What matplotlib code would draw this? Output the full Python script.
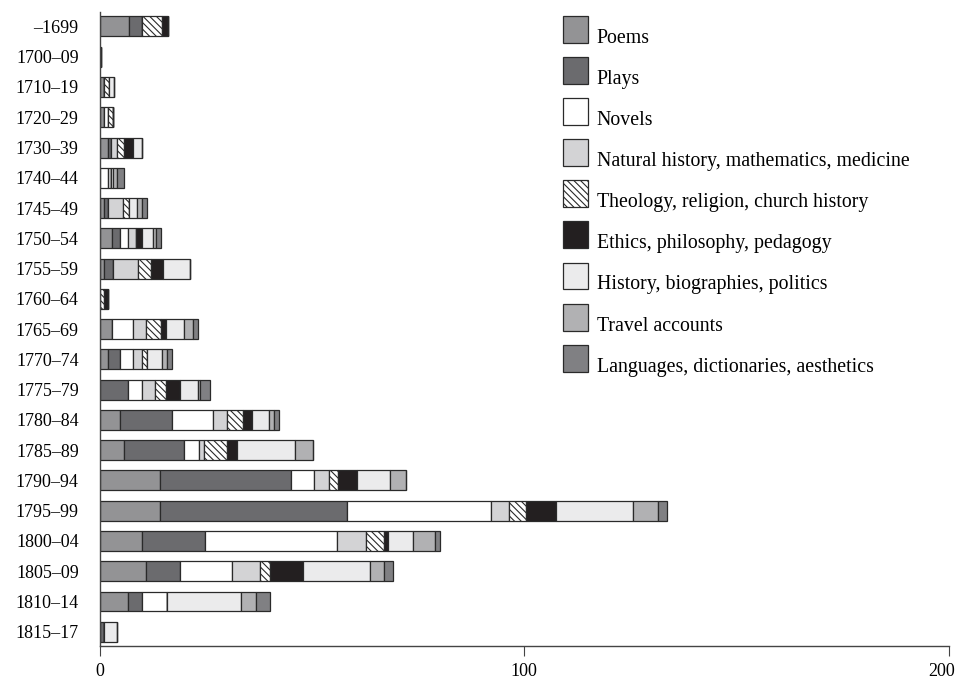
import matplotlib
matplotlib.use("Agg")
import matplotlib.pyplot as plt
import matplotlib.transforms as mtransforms
from matplotlib.patches import Rectangle
from matplotlib.container import BarContainer
from matplotlib.legend_handler import HandlerPatch, update_from_first_child
import numpy as np

plt.rcParams['font.family'] = ['Liberation Serif', 'DejaVu Serif']
plt.rcParams['hatch.linewidth'] = 0.8

# periods, top to bottom
periods = ['\u20131699', '1700\u201309', '1710\u201319', '1720\u201329', '1730\u201339',
           '1740\u201344', '1745\u201349', '1750\u201354', '1755\u201359', '1760\u201364',
           '1765\u201369', '1770\u201374', '1775\u201379', '1780\u201384', '1785\u201389',
           '1790\u201394', '1795\u201399', '1800\u201304', '1805\u201309', '1810\u201314',
           '1815\u201317']

# number of titles per genre
poems     = [7, 0, 1, 1, 2, 0, 1, 3, 1, 0, 3, 2, 0, 4.8, 5.8, 14.3, 14.3, 9.9, 10.9, 6.8, 0]
plays     = [3, 0, 0, 0, 0.6, 0, 1, 1.7, 2.2, 0, 0, 2.8, 6.8, 12.2, 14.2, 30.7, 43.9, 14.9, 8.0, 3.3, 1]
novels    = [0, 0, 0, 1, 0, 2, 0, 2, 0, 0, 4.9, 3.1, 3.1, 9.8, 3.3, 5.4, 34.0, 31.0, 12.2, 5.7, 0]
natural   = [0, 0, 0, 0, 1.4, 0.6, 3.5, 2, 5.8, 0, 3.1, 2, 3.2, 3.1, 1.4, 3.6, 4.2, 6.9, 6.7, 0, 0]
theology  = [4.7, 0, 1.3, 1.1, 1.7, 0, 1.4, 0, 3.2, 1, 3.5, 1.3, 2.6, 3.8, 5.4, 2.1, 3.9, 4.2, 2.3, 0, 0]
ethics    = [1.3, 0.3, 0, 0, 2.2, 0, 0, 1.2, 2.8, 1, 1.2, 0, 3.3, 2.3, 2.2, 4.4, 7.2, 1.0, 7.9, 0, 0]
history   = [0, 0, 1, 0, 2, 0.5, 2, 2.8, 6.2, 0, 4.3, 3.6, 4.1, 3.9, 13.6, 7.9, 18.1, 5.9, 15.6, 17.4, 3.2]
travel    = [0, 0, 0, 0, 0, 0.9, 1, 0.6, 0, 0, 2, 1, 0.6, 1.2, 4.3, 3.8, 5.9, 5.1, 3.4, 3.6, 0]
languages = [0, 0, 0, 0, 0, 1.8, 1.2, 1.1, 0, 0, 1.1, 1.2, 2.2, 1.2, 0, 0, 2.0, 1.2, 2.1, 3.3, 0]

series = [poems, plays, novels, natural, theology, ethics, history, travel, languages]
labels = ['Poems', 'Plays', 'Novels', 'Natural history, mathematics, medicine',
          'Theology, religion, church history', 'Ethics, philosophy, pedagogy',
          'History, biographies, politics', 'Travel accounts',
          'Languages, dictionaries, aesthetics']
colors = ['#939395', '#6b6b6e', '#ffffff', '#d3d3d5', '#ffffff', '#231f20',
          '#ebebec', '#b1b1b3', '#808083']
hatches = [None, None, None, None, '\\\\\\\\\\', None, None, None, None]

fig = plt.figure(figsize=(9.59, 6.8), dpi=100)
ax = fig.add_axes([0.1038, 0.05, 0.8858, 0.932])

y = np.arange(len(periods))
left = np.zeros(len(periods))
handles = []
for vals, lab, col, h in zip(series, labels, colors, hatches):
    vals = np.array(vals, dtype=float)
    b = ax.barh(y, vals, left=left, height=0.66, color=col, edgecolor='#2a2a2a',
                linewidth=0.9, hatch=h, label=lab)
    handles.append(b)
    left += vals

ax.set_xlim(0, 200)
ax.set_ylim(20.47, -0.47)
ax.set_xticks([0, 100, 200])
ax.set_yticks(y)
ax.set_yticklabels(periods)
ax.tick_params(axis='y', length=0, pad=15, labelsize=13)
ax.tick_params(axis='x', length=7, pad=5, labelsize=13, color='#444444')
for s in ['top', 'right']:
    ax.spines[s].set_visible(False)
for s in ['left', 'bottom']:
    ax.spines[s].set_color('#444444')
    ax.spines[s].set_linewidth(1.0)

# last x label sits a bit left of its tick (as in the original)
last = ax.xaxis.get_major_ticks()[-1].label1
last.set_transform(last.get_transform() +
                   mtransforms.ScaledTranslation(-7 / 100, 0, fig.dpi_scale_trans))


# legend boxes sit on the text baseline
def box_on_baseline(legend, orig_handle, xdescent, ydescent, width, height, fontsize):
    return Rectangle((-xdescent, 0), width, height)


hmap = {BarContainer: HandlerPatch(patch_func=box_on_baseline,
                                   update_func=update_from_first_child)}
fig.legend(handles=handles, labels=labels, loc='upper left',
           bbox_to_anchor=(0.5867, 0.9662), bbox_transform=fig.transFigure,
           frameon=False, fontsize=14.3, handlelength=1.29, handleheight=1.714,
           labelspacing=0.71, handletextpad=0.42, borderpad=0, borderaxespad=0,
           handler_map=hmap)

fig.savefig('out.png', dpi=100)
